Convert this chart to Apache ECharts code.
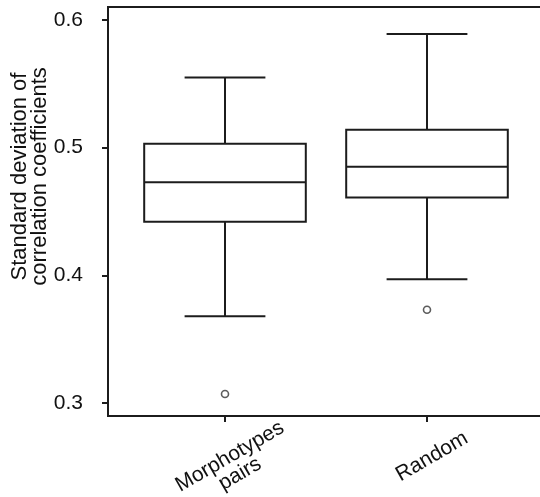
<!DOCTYPE html>
<html>
<head>
<meta charset="utf-8">
<script src="https://cdn.jsdelivr.net/npm/echarts@6/dist/echarts.min.js"></script>
<style>
  html, body { margin: 0; padding: 0; background: #fff; }
  #chart { width: 540px; height: 497px; }
</style>
</head>
<body>
<div id="chart"></div>
<script>
// values
const categories = ['Morphotypes\npairs', 'Random'];
const whiskerLow = [0.368, 0.397];
const q1 = [0.442, 0.461];
const median = [0.473, 0.485];
const q3 = [0.503, 0.514];
const whiskerHigh = [0.555, 0.589];
const outlierCategory = [0, 1];
const outlierValue = [0.307, 0.373];
const yTicks = [0.3, 0.4, 0.5, 0.6];

const lineColor = '#1c1c1c';
const font = '"Liberation Sans", Arial, Helvetica, sans-serif';
const yMin = 0.2898;
const yMax = 0.6102;

const boxData = categories.map((c, i) => [i, whiskerLow[i], q1[i], median[i], q3[i], whiskerHigh[i]]);
const outlierData = outlierCategory.map((c, i) => [c, outlierValue[i]]);

const renderBox = (params, api) => {
  const idx = api.value(0);
  const low = api.coord([idx, api.value(1)]);
  const lo = api.coord([idx, api.value(2)]);
  const mid = api.coord([idx, api.value(3)]);
  const hi = api.coord([idx, api.value(4)]);
  const high = api.coord([idx, api.value(5)]);
  const band = api.size([1, 0])[0];
  const half = band * 0.4;
  const cap = band * 0.2;
  const x = mid[0];
  const style = { stroke: lineColor, lineWidth: 2, fill: null };
  const line = (x1, y1, x2, y2) => ({ type: 'line', shape: { x1, y1, x2, y2 }, style });
  return {
    type: 'group',
    children: [
      line(x, high[1], x, hi[1]),
      line(x, lo[1], x, low[1]),
      line(x - cap, high[1], x + cap, high[1]),
      line(x - cap, low[1], x + cap, low[1]),
      { type: 'rect', shape: { x: x - half, y: hi[1], width: half * 2, height: lo[1] - hi[1] }, style },
      line(x - half, mid[1], x + half, mid[1]),
    ],
  };
};

const option = {
  animation: false,
  backgroundColor: '#fff',
  textStyle: { fontFamily: font },
  grid: [
    {
      left: 108,
      top: 7,
      width: 434,
      height: 409,
      outerBoundsMode: 'none',
      containLabel: false,
      show: true,
      borderColor: lineColor,
      borderWidth: 2,
      backgroundColor: 'transparent',
    },
    {
      left: 124,
      top: 7,
      width: 404,
      height: 409,
      outerBoundsMode: 'none',
      containLabel: false,
    },
  ],
  xAxis: [
    {
      gridIndex: 0,
      type: 'value',
      show: false,
    },
    {
      gridIndex: 1,
      type: 'category',
      data: categories,
      boundaryGap: true,
      axisLine: { show: false },
      axisTick: {
        show: true,
        alignWithLabel: true,
        length: 6,
        lineStyle: { color: lineColor, width: 2 },
      },
      axisLabel: {
        interval: 0,
        rotate: 30,
        align: 'center',
        verticalAlign: 'top',
        margin: 32,
        fontSize: 21,
        lineHeight: 20,
        color: '#111',
        fontFamily: font,
      },
      splitLine: { show: false },
    },
  ],
  yAxis: [
    {
      gridIndex: 0,
      type: 'value',
      min: yMin,
      max: yMax,
      name: 'Standard deviation of\ncorrelation coefficients',
      nameLocation: 'middle',
      nameGap: 58,
      nameMoveOverlap: false,
      nameTextStyle: {
        fontSize: 22,
        lineHeight: 20,
        color: '#111',
        fontFamily: font,
        padding: [0, 0, 0, 70],
      },
      axisLine: { show: false },
      axisTick: {
        show: true,
        length: 6,
        customValues: yTicks,
        lineStyle: { color: lineColor, width: 2 },
      },
      axisLabel: {
        margin: 25,
        fontSize: 21,
        color: '#111',
        fontFamily: font,
        customValues: yTicks,
        formatter: (v) => v.toFixed(1),
      },
      splitLine: { show: false },
    },
    {
      gridIndex: 1,
      type: 'value',
      min: yMin,
      max: yMax,
      show: false,
    },
  ],
  series: [
    {
      name: 'box',
      type: 'custom',
      xAxisIndex: 1,
      yAxisIndex: 1,
      renderItem: renderBox,
      dimensions: ['cat', 'low', 'q1', 'median', 'q3', 'high'],
      encode: { x: 0, y: [1, 2, 3, 4, 5] },
      data: boxData,
    },
    {
      name: 'outliers',
      type: 'scatter',
      xAxisIndex: 1,
      yAxisIndex: 1,
      symbol: 'circle',
      symbolSize: 7,
      itemStyle: {
        color: '#fff',
        borderColor: '#333',
        borderWidth: 1.6,
      },
      data: outlierData,
    },
  ],
};

const chartDom = document.getElementById('chart');
const myChart = echarts.init(chartDom, null, { renderer: 'canvas' });
myChart.setOption(option);
</script>
</body>
</html>
